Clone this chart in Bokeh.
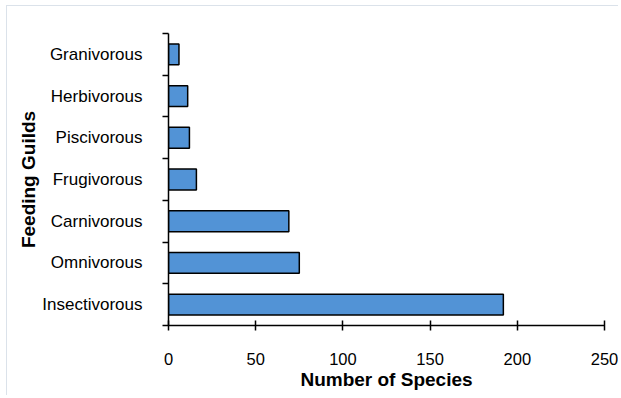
from bokeh.plotting import figure
from bokeh.models import Range1d, FixedTicker
from bokeh.embed import file_html
from bokeh.resources import INLINE

# Data (bottom to top)
guilds = ["Insectivorous", "Omnivorous", "Carnivorous", "Frugivorous",
          "Piscivorous", "Herbivorous", "Granivorous"]
species = [192, 75, 69, 16, 12, 11, 6]
x_ticks = [0, 50, 100, 150, 200, 250]

centers = [i + 0.5 for i in range(len(guilds))]
bounds = list(range(len(guilds) + 1))

p = figure(width=612, height=390, output_backend="svg", toolbar_location=None,
           x_range=Range1d(0, 250), y_range=Range1d(0, len(guilds)),
           min_border_left=161, min_border_right=15, min_border_top=27,
           min_border_bottom=71)
p.styles = {"margin-left": "6px", "margin-top": "5px",
            "border-top": "1px solid #dbe2ea",
            "border-left": "1px solid #dbe2ea"}

p.hbar(y=centers, left=0, right=species, height=0.5,
       fill_color="#5293d6", line_color="black", line_width=1.5)

FONT = "Liberation Sans"

# y axis
p.yaxis.ticker = FixedTicker(ticks=centers, minor_ticks=bounds)
p.yaxis.major_label_overrides = {c: g for c, g in zip(centers, guilds)}
p.yaxis.major_tick_out = 0
p.yaxis.major_tick_in = 0
p.yaxis.minor_tick_out = 6
p.yaxis.minor_tick_in = 0
p.yaxis.minor_tick_line_color = "black"
p.yaxis.minor_tick_line_width = 1.5
p.yaxis.major_label_standoff = 20
p.yaxis.axis_label = "Feeding Guilds"
p.yaxis.axis_label_standoff = 0

# x axis
p.xaxis.ticker = FixedTicker(ticks=x_ticks)
p.xaxis.major_tick_in = 5
p.xaxis.major_tick_out = 5
p.xaxis.minor_tick_line_color = None
p.xaxis.major_label_standoff = 22
p.xaxis.axis_label = "Number of Species"
p.xaxis.axis_label_standoff = 1

for ax in (p.xaxis, p.yaxis):
    ax.axis_line_color = "black"
    ax.axis_line_width = 1.5
    ax.major_tick_line_color = "black"
    ax.major_tick_line_width = 1.5
    ax.major_label_text_font = FONT
    ax.major_label_text_color = "black"
    ax.axis_label_text_font = FONT
    ax.axis_label_text_font_style = "bold"
    ax.axis_label_text_color = "black"
    ax.axis_label_text_font_size = "19px"

p.xaxis.major_label_text_font_size = "16.5px"
p.yaxis.major_label_text_font_size = "17px"

p.xgrid.visible = False
p.ygrid.visible = False
p.outline_line_color = None

open("out.html", "w").write(file_html(p, INLINE))
